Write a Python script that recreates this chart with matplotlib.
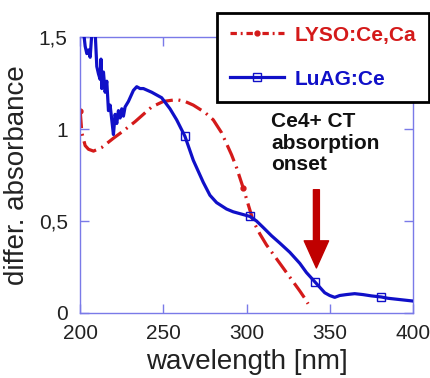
import matplotlib
matplotlib.use('Agg')
import matplotlib.pyplot as plt
from matplotlib.lines import Line2D

plt.rcParams['font.family'] = ['Liberation Sans', 'DejaVu Sans']

# LuAG:Ce differential absorbance (blue, solid)
luag_wl = [200, 201.8, 203, 204, 205, 206, 207, 208, 209, 210, 211, 212, 212.5, 213, 214, 215,
           216, 217, 218, 219, 220, 221, 222, 223, 224, 225, 226, 227, 229, 232, 234, 236, 238,
           243, 249, 254, 258, 263, 268, 274, 278, 282, 288, 292, 296, 302, 306, 310, 315, 320,
           326, 332, 336, 341, 344, 347, 350, 353, 356, 360, 365, 370, 375, 381, 385, 390, 395, 400]
luag_abs = [1.60, 1.55, 1.45, 1.41, 1.43, 1.39, 1.52, 1.56, 1.53, 1.34, 1.30, 1.27, 1.38, 1.22, 1.31, 1.20,
            1.26, 1.10, 1.13, 1.05, 0.97, 1.08, 1.03, 1.10, 1.06, 1.11, 1.07, 1.12, 1.15, 1.21, 1.23, 1.22, 1.22,
            1.20, 1.17, 1.11, 1.05, 0.96, 0.83, 0.71, 0.64, 0.60, 0.565, 0.55, 0.54, 0.525, 0.50, 0.465, 0.42, 0.38,
            0.33, 0.27, 0.22, 0.17, 0.14, 0.11, 0.095, 0.085, 0.095, 0.10, 0.105, 0.10, 0.093, 0.087, 0.08, 0.075, 0.07, 0.065]
luag_marks = [263, 302, 341, 381]

# LYSO:Ce,Ca differential absorbance (red, dash-dot)
lyso_wl = [200, 201, 203, 205, 208, 213, 220, 226, 233, 243, 250, 258, 263, 268, 275, 280, 285, 288,
           291, 294, 298, 302, 304, 308, 312, 316, 320, 324, 328, 332, 335, 337]
lyso_abs = [1.10, 0.98, 0.91, 0.89, 0.88, 0.90, 0.95, 0.99, 1.04, 1.12, 1.15, 1.16, 1.15, 1.13, 1.09, 1.05, 0.98, 0.92,
            0.86, 0.79, 0.68, 0.56, 0.50, 0.43, 0.37, 0.32, 0.27, 0.22, 0.17, 0.12, 0.08, 0.05]
lyso_marks = [200, 298]

# axis ticks
x_ticks = [200, 250, 300, 350, 400]
y_ticks = [0, 0.5, 1, 1.5]
y_ticklabels = ['0', '0,5', '1', '1,5']

blue = '#1010c8'
red = '#d41a1a'
spine_c = '#7a7ae8'

fig = plt.figure(figsize=(4.31, 3.78), dpi=100)
ax = fig.add_axes([0.186, 0.172, 0.772, 0.730])

ax.plot(lyso_wl, lyso_abs, color=red, lw=2.3, dashes=[5.5, 1.8, 0.6, 1.8],
        marker='o', ms=3.5, markevery=[lyso_wl.index(w) for w in lyso_marks], zorder=2)
ax.plot(luag_wl, luag_abs, color=blue, lw=2.3, marker='s', ms=6, mfc='none', mew=1.0,
        markevery=[luag_wl.index(w) for w in luag_marks], zorder=3)

ax.set_xlim(200, 400)
ax.set_ylim(0, 1.5)
ax.set_xticks(x_ticks)
ax.set_yticks(y_ticks)
ax.set_yticklabels(y_ticklabels)
ax.tick_params(direction='in', top=True, right=True, length=6.5, width=1, color=spine_c,
               labelsize=15, labelcolor='#222222')
ax.tick_params(axis='y', pad=9)
ax.tick_params(axis='x', pad=8)
for s in ax.spines.values():
    s.set_color(spine_c)
    s.set_linewidth(1.0)

ax.set_xlabel('wavelength [nm]', fontsize=20, color='#222222', labelpad=4)
ax.set_ylabel('differ. absorbance', fontsize=20, color='#222222', labelpad=6)

# annotation and arrow
ax.text(315, 1.09, 'Ce4+ CT\nabsorption\nonset', fontsize=15, fontweight='bold',
        va='top', ha='left', linespacing=1.15, color='#111111')
ax.annotate('', xy=(342, 0.245), xytext=(342, 0.67),
            arrowprops=dict(arrowstyle='simple,head_length=1.5,head_width=1.35,tail_width=0.33',
                            color='#c00000', mutation_scale=13, shrinkA=0, shrinkB=0))

handles = [Line2D([], [], color=red, lw=2.3, dashes=[2.0, 1.2, 0.6, 1.2], marker='o', ms=3.5),
           Line2D([], [], color=blue, lw=2.3, marker='s', ms=6, mfc='none', mew=1.0)]
leg = ax.legend(handles, ['LYSO:Ce,Ca', 'LuAG:Ce'], loc='upper right',
                bbox_to_anchor=(0.995, 0.966), bbox_transform=fig.transFigure,
                prop={'size': 15, 'weight': 'bold'}, numpoints=1, handlelength=2.6,
                handletextpad=0.5, labelspacing=1.2, borderpad=0.62, borderaxespad=0,
                fancybox=False, framealpha=1, edgecolor='black')
leg.get_frame().set_linewidth(2)
leg.get_texts()[0].set_color(red)
leg.get_texts()[1].set_color(blue)
leg.set_zorder(5)

fig.savefig('out.png', dpi=100)
